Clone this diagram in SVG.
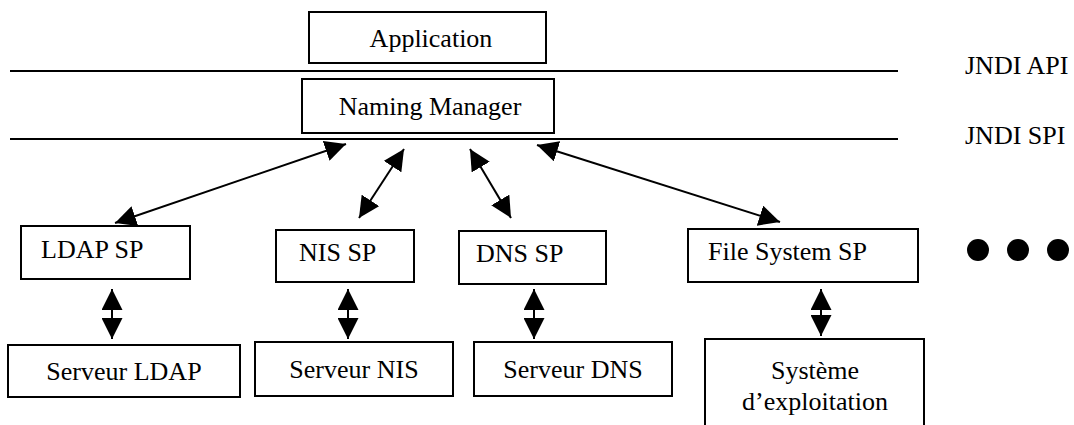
<svg xmlns="http://www.w3.org/2000/svg" width="1074" height="425" viewBox="0 0 1074 425">
<style>
.box{fill:#fff;stroke:#000;stroke-width:2}
.t{font-family:"Liberation Serif","Times New Roman",serif;font-size:26px;fill:#000}
.ln{stroke:#000;stroke-width:2}
.ar{stroke:#000;stroke-width:2;fill:none}
</style>
<defs>
<marker id="ah" viewBox="0 0 21 21" refX="21" refY="10.5" markerWidth="21" markerHeight="21" markerUnits="userSpaceOnUse" orient="auto-start-reverse">
<path d="M0,0 L21,10.5 L0,21 Z" fill="#000"/>
</marker>
</defs>
<rect width="1074" height="425" fill="#fff"/>
<g id="layers">
<line class="ln" x1="10" y1="71" x2="898" y2="71"/>
<line class="ln" x1="10" y1="139" x2="898" y2="139"/>
<text class="t" x="965" y="74">JNDI API</text>
<text class="t" x="965" y="144">JNDI SPI</text>
</g>
<g id="application"><rect class="box" x="309" y="12" width="237" height="51"/><text class="t" x="431" y="47" text-anchor="middle">Application</text></g>
<g id="naming-manager"><rect class="box" x="302" y="79" width="252" height="54"/><text class="t" x="430" y="115" text-anchor="middle">Naming Manager</text></g>
<g id="ldap-sp"><rect class="box" x="21" y="226" width="169" height="53"/><text class="t" x="41" y="258">LDAP SP</text></g>
<g id="nis-sp"><rect class="box" x="276" y="230" width="138" height="52"/><text class="t" x="299" y="261">NIS SP</text></g>
<g id="dns-sp"><rect class="box" x="459" y="231" width="147" height="53"/><text class="t" x="476" y="262">DNS SP</text></g>
<g id="fs-sp"><rect class="box" x="688" y="229" width="230" height="53"/><text class="t" x="708" y="260">File System SP</text></g>
<g id="more"><circle cx="978" cy="250" r="11"/><circle cx="1018" cy="250" r="11"/><circle cx="1058" cy="250" r="11"/></g>
<g id="serveur-ldap"><rect class="box" x="8" y="345" width="232" height="52"/><text class="t" x="124" y="380" text-anchor="middle">Serveur LDAP</text></g>
<g id="serveur-nis"><rect class="box" x="255" y="342" width="198" height="54"/><text class="t" x="354" y="378" text-anchor="middle">Serveur NIS</text></g>
<g id="serveur-dns"><rect class="box" x="474" y="342" width="198" height="54"/><text class="t" x="573" y="378" text-anchor="middle">Serveur DNS</text></g>
<g id="os"><rect class="box" x="705" y="339" width="219" height="100"/><text class="t" x="815" y="379" text-anchor="middle">Système</text><text class="t" x="815" y="410" text-anchor="middle">d’exploitation</text></g>
<g id="connectors">
<line class="ar" x1="115" y1="223" x2="346" y2="144" marker-start="url(#ah)" marker-end="url(#ah)"/>
<line class="ar" x1="359" y1="218" x2="404" y2="149" marker-start="url(#ah)" marker-end="url(#ah)"/>
<line class="ar" x1="470" y1="149" x2="511" y2="218" marker-start="url(#ah)" marker-end="url(#ah)"/>
<line class="ar" x1="537" y1="145" x2="780" y2="222" marker-start="url(#ah)" marker-end="url(#ah)"/>
<line class="ar" x1="112" y1="289" x2="112" y2="339" marker-start="url(#ah)" marker-end="url(#ah)"/>
<line class="ar" x1="348" y1="289" x2="348" y2="339" marker-start="url(#ah)" marker-end="url(#ah)"/>
<line class="ar" x1="534" y1="289" x2="534" y2="339" marker-start="url(#ah)" marker-end="url(#ah)"/>
<line class="ar" x1="821" y1="289" x2="821" y2="336" marker-start="url(#ah)" marker-end="url(#ah)"/>
</g>
</svg>
